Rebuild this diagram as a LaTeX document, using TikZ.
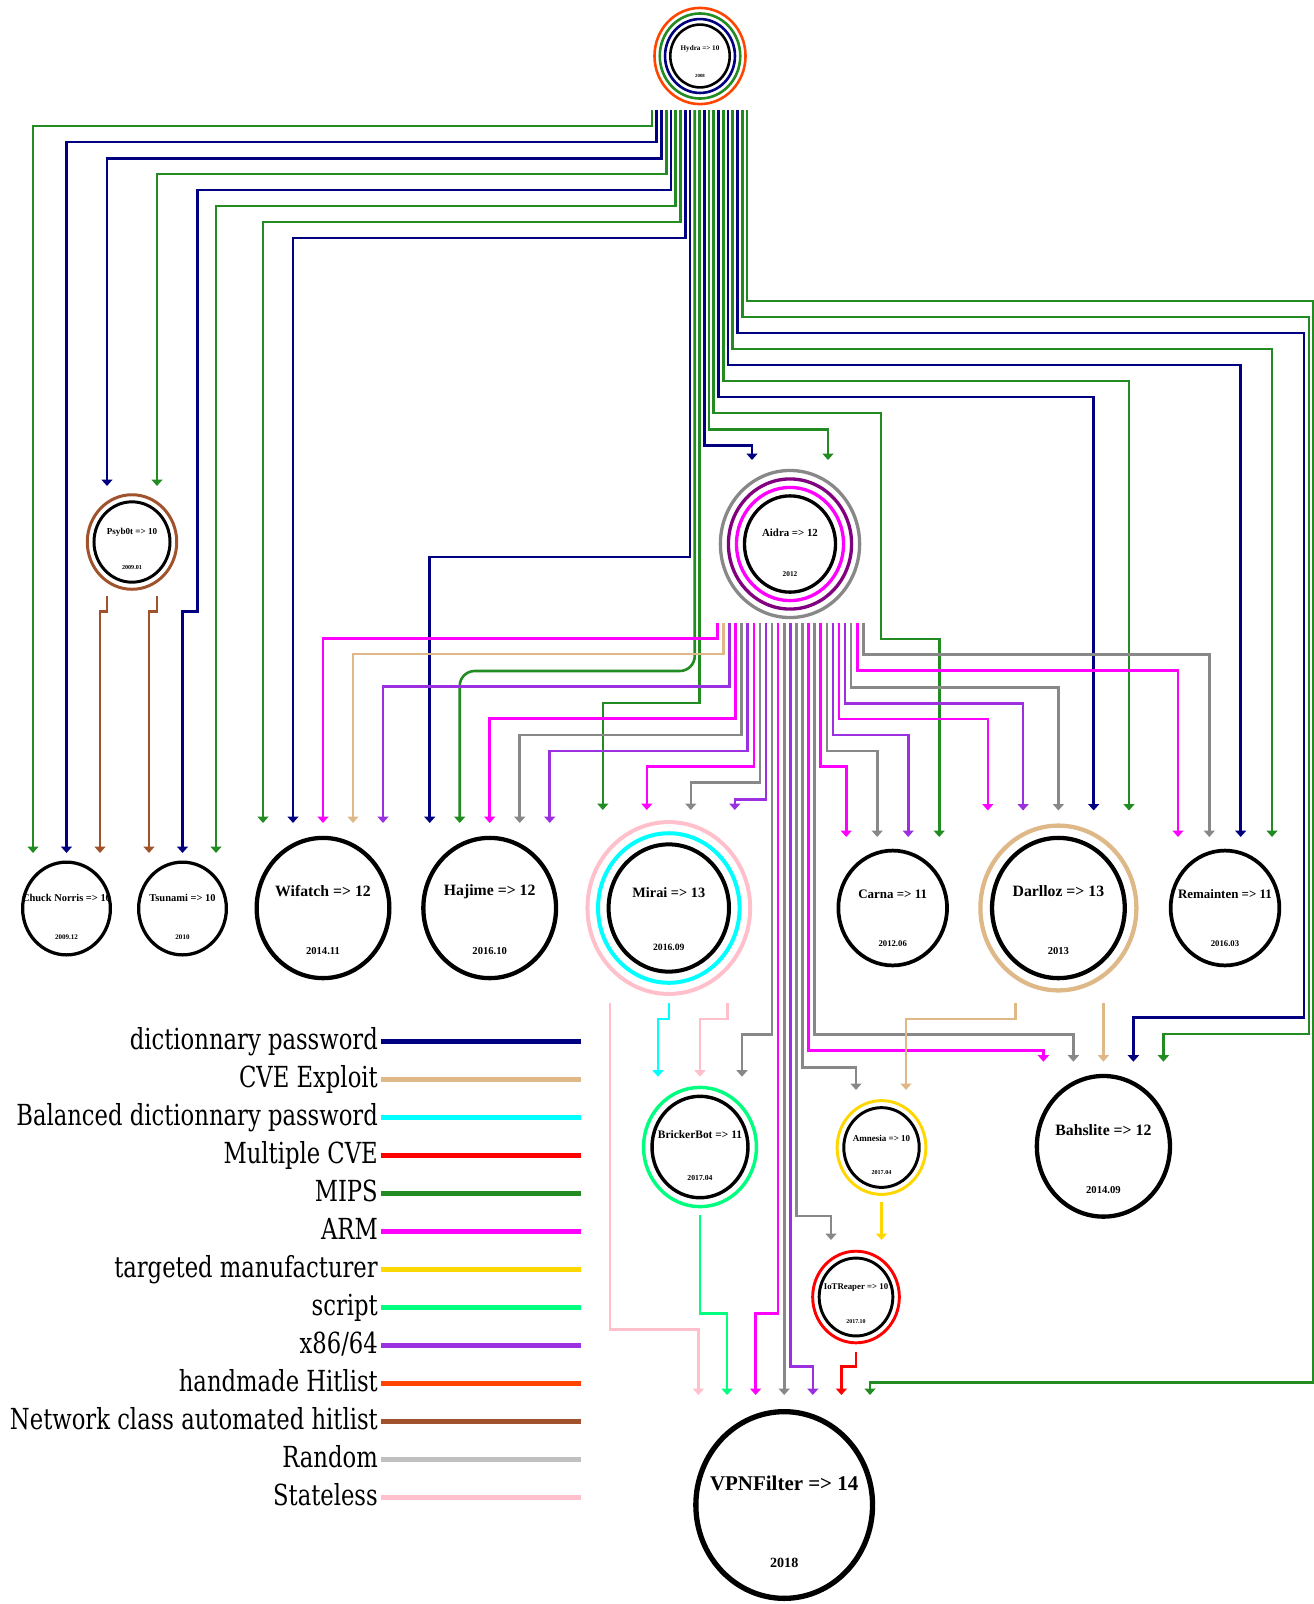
\documentclass[tikz,border=0pt]{standalone}
\usepackage{fontspec}
\setmainfont{Liberation Serif}
\newfontfamily\keyfont[FakeStretch=0.87]{DejaVu Serif Condensed}
\usetikzlibrary{calc, positioning}
\usetikzlibrary{shapes.geometric}
\usetikzlibrary{arrows.meta}

\definecolor{dict}{HTML}{000080}
\definecolor{cve}{HTML}{DEB887}
\definecolor{bdict}{HTML}{00FFFF}
\definecolor{mcve}{HTML}{FF0000}
\definecolor{mips}{HTML}{228B22}
\definecolor{arm}{HTML}{FF00FF}
\definecolor{manuf}{HTML}{FFD700}
\definecolor{script}{HTML}{00FF7F}
\definecolor{x86}{HTML}{9B30E0}
\definecolor{hand}{HTML}{FF4500}
\definecolor{netcls}{HTML}{A0522D}
\definecolor{rnd}{HTML}{888888}
\definecolor{rndkey}{HTML}{C0C0C0}
\definecolor{stateless}{HTML}{FFC0CB}
\definecolor{webpurple}{HTML}{800080}

\tikzset{
  botnode/.style={ellipse, draw=black, inner sep=0pt},
  flow/.style={draw=#1, line width=2.6pt, -{Triangle[width=11pt,length=6.5pt]}},
  keytext/.style={anchor=base east, inner sep=0pt, font=\keyfont\fontsize{29}{29}\selectfont},
  keyline/.style={draw=#1, line width=5pt},
}

% name, x, y, radius, title, year
\newcommand{\botnet}[6]{%
  \pgfmathsetmacro{\bnRy}{1.055*#4}
  \pgfmathsetmacro{\bnLw}{1.2+0.045*#4}
  \pgfmathsetmacro{\bnW}{2*#4-\bnLw}
  \pgfmathsetmacro{\bnH}{2*\bnRy-\bnLw}
  \pgfmathsetmacro{\bnFa}{0.23*#4}
  \pgfmathsetmacro{\bnFb}{0.155*#4}
  \node[botnode, line width=\bnLw pt, minimum width=\bnW pt, minimum height=\bnH pt] (#1) at (#2,#3) {};
  \node[font=\fontsize{\bnFa}{\bnFa}\selectfont\bfseries] (#1-name) at ($(#1)+(0,-0.23*\bnRy)$) {#5};
  \node[font=\fontsize{\bnFb}{\bnFb}\selectfont\bfseries] (#1-year) at ($(#1)+(0,0.6*\bnRy)$) {#6};
}
% node, radius, step, colour
\newcommand{\halo}[4]{%
  \pgfmathsetmacro{\bnLw}{1.2+0.045*#2}
  \pgfmathsetmacro{\bnA}{(1+0.17*#3)*#2-0.5*\bnLw}
  \pgfmathsetmacro{\bnB}{1.055*(1+0.17*#3)*#2-0.5*\bnLw}
  \draw[#4, line width=\bnLw pt] (#1.center) ellipse [x radius=\bnA pt, y radius=\bnB pt];
}
% [opts] colour, from, dx, level, to, dx
\newcommand{\flow}[7][]{%
  \path ($(#3-out)+(#4,0)$) coordinate (fs) ($(#6-in)+(#7,0)$) coordinate (fe) (0,#5) coordinate (fl);
  \draw[flow=#2, #1] (fs) -- (fs |- fl) -| (fe);
}
% colour, from, dx, level, x, level, to, dx
\newcommand{\flowrim}[8]{%
  \path ($(#2-out)+(#3,0)$) coordinate (fs) ($(#7-in)+(#8,0)$) coordinate (fe) (#5,#4) coordinate (fa) (0,#6) coordinate (fb);
  \draw[flow=#1] (fs) |- (fa) |- (fe |- fb) -- (fe);
}

\begin{document}
\begin{tikzpicture}[x=1pt, y=-1pt]
\useasboundingbox (0,0) rectangle (1314,1604);

% botnets
\botnet{hydra}{700}{56}{31}{Hydra => 10}{2008}
\botnet{psyb}{132}{542}{39.5}{Psyb0t => 10}{2009.01}
\botnet{aidra}{790}{544}{47.2}{Aidra => 12}{2012}
\botnet{chuck}{66.5}{908.5}{45.5}{Chuck Norris => 10}{2009.12}
\botnet{tsunami}{182.5}{908.5}{45.5}{Tsunami => 10}{2010}
\botnet{wifatch}{323}{908}{68.5}{Wifatch => 12}{2014.11}
\botnet{hajime}{489.7}{908}{68.5}{Hajime => 12}{2016.10}
\botnet{mirai}{668.8}{908}{62.2}{Mirai => 13}{2016.09}
\botnet{carna}{892.7}{908}{56.2}{Carna => 11}{2012.06}
\botnet{darlloz}{1058.4}{908}{68.5}{Darlloz => 13}{2013}
\botnet{remainten}{1225}{908}{56.2}{Remainten => 11}{2016.03}
\botnet{brickerbot}{700}{1147}{49.7}{BrickerBot => 11}{2017.04}
\botnet{amnesia}{881.5}{1147.5}{39.2}{Amnesia => 10}{2017.04}
\botnet{bahslite}{1103.4}{1146.3}{68.7}{Bahslite => 12}{2014.09}
\botnet{iotreaper}{856}{1297}{38.3}{IoTReaper => 10}{2017.10}
\botnet{vpnfilter}{784.2}{1505}{91}{VPNFilter => 14}{2018}

\halo{hydra}{31}{1}{dict}
\halo{hydra}{31}{2}{mips}
\halo{hydra}{31}{3}{hand}
\halo{psyb}{39.5}{1}{netcls}
\halo{aidra}{47.2}{1}{arm}
\halo{aidra}{47.2}{2}{webpurple}
\halo{aidra}{47.2}{3}{rnd}
\halo{mirai}{62.2}{1}{bdict}
\halo{mirai}{62.2}{2}{stateless}
\halo{darlloz}{68.5}{1}{cve}
\halo{brickerbot}{49.7}{1}{script}
\halo{amnesia}{39.2}{1}{manuf}
\halo{iotreaper}{38.3}{1}{mcve}

% ports
\foreach \n/\d in {hydra/54, aidra/79.3, psyb/54, mirai/95.3, darlloz/95.3,
    brickerbot/68, amnesia/54.2, iotreaper/54.7}
  \coordinate (\n-out) at ($(\n)+(0,\d)$);
\foreach \n/\d in {aidra/-84, psyb/-56, chuck/-55.5, tsunami/-55.5, wifatch/-85,
    hajime/-85, mirai/-98, carna/-71, darlloz/-97.5, remainten/-71, bahslite/-84.6,
    brickerbot/-70.3, amnesia/-57.5, iotreaper/-57, vpnfilter/-110}
  \coordinate (\n-in) at ($(\n)+(0,\d)$);

% from Hydra
\flow{mips}{hydra}{-48}{126}{chuck}{-33.5}
\flow{dict}{hydra}{-43.25}{142}{chuck}{0}
\flow{dict}{hydra}{-38.5}{158.5}{psyb}{-25}
\flow{mips}{hydra}{-33.75}{174}{psyb}{25}
\flowrim{dict}{hydra}{-29}{190}{197.3}{611.7}{tsunami}{0}
\flow{mips}{hydra}{-24.25}{206}{tsunami}{33.5}
\flow{mips}{hydra}{-19.5}{222}{wifatch}{-60}
\flow{dict}{hydra}{-14.75}{238}{wifatch}{-30}
\flow{dict}{hydra}{-10}{557}{hajime}{-60}
\flow[rounded corners=15pt]{mips}{hydra}{-5.25}{671}{hajime}{-30}
\flow{mips}{hydra}{-0.5}{703}{mirai}{-66}
\flow{dict}{hydra}{4.25}{445.7}{aidra}{-38}
\flow{mips}{hydra}{9}{429.3}{aidra}{38}
\flowrim{mips}{hydra}{13.75}{413}{881}{639}{carna}{46.5}
\flow{dict}{hydra}{18.5}{397}{darlloz}{35.3}
\flow{mips}{hydra}{23.25}{381}{darlloz}{70.6}
\flow{dict}{hydra}{28}{365}{remainten}{15.7}
\flow{mips}{hydra}{32.75}{349}{remainten}{47}
\flowrim{dict}{hydra}{37.5}{333}{1304}{1017.5}{bahslite}{30}
\flowrim{mips}{hydra}{42.25}{317}{1309}{1034}{bahslite}{60}
\flowrim{mips}{hydra}{47}{301}{1313}{1382.5}{vpnfilter}{85.8}

% from Aidra
\flow{arm}{aidra}{-72.7}{638.3}{wifatch}{0}
\flow{cve}{aidra}{-66.6}{654}{wifatch}{30}
\flow{x86}{aidra}{-60.5}{686.7}{wifatch}{60}
\flow{arm}{aidra}{-54.5}{718.3}{hajime}{0}
\flow{rnd}{aidra}{-48.4}{735}{hajime}{30}
\flow{x86}{aidra}{-42.3}{751}{hajime}{60}
\flow{arm}{aidra}{-36.2}{766.7}{mirai}{-22}
\flow{rnd}{aidra}{-30.1}{782.7}{mirai}{22}
\flow{x86}{aidra}{-24}{799.3}{mirai}{66}
\flow{rnd}{aidra}{-18}{1034.3}{brickerbot}{42}
\flow{arm}{aidra}{-11.9}{1313.3}{vpnfilter}{-28.6}
\flow{rnd}{aidra}{-5.8}{1380}{vpnfilter}{0}
\flow{x86}{aidra}{0.3}{1366.7}{vpnfilter}{28.6}
\flow{rnd}{aidra}{6.4}{1216}{iotreaper}{-25}
\flow{rnd}{aidra}{12.5}{1067.7}{amnesia}{-25.5}
\flow{arm}{aidra}{18.5}{1050.7}{bahslite}{-60}
\flow{rnd}{aidra}{24.6}{1034.3}{bahslite}{-30}
\flow{arm}{aidra}{30.7}{766.7}{carna}{-46.5}
\flow{rnd}{aidra}{36.8}{751}{carna}{-15.5}
\flow{x86}{aidra}{42.9}{735}{carna}{15.5}
\flow{arm}{aidra}{49}{719}{darlloz}{-70.6}
\flow{x86}{aidra}{55}{703.3}{darlloz}{-35.3}
\flow{rnd}{aidra}{61.1}{687.3}{darlloz}{0}
\flow{arm}{aidra}{67.2}{670.7}{remainten}{-47}
\flow{rnd}{aidra}{73.3}{654.3}{remainten}{-15.7}

% the others
\flow{netcls}{psyb}{-25}{611.7}{chuck}{33.5}
\flow{netcls}{psyb}{25}{611.7}{tsunami}{-33.5}
\flow{stateless}{mirai}{-58.8}{1329.3}{vpnfilter}{-85.8}
\flow{bdict}{mirai}{0}{1019}{brickerbot}{-42}
\flow{stateless}{mirai}{58.9}{1019}{brickerbot}{0}
\flow{cve}{darlloz}{-42.7}{1019}{amnesia}{24.5}
\flow{cve}{darlloz}{45}{1040}{bahslite}{0}
\flow{script}{brickerbot}{0}{1313.3}{vpnfilter}{-57.2}
\flow{manuf}{amnesia}{0}{1220}{iotreaper}{25.5}
\flow{mcve}{iotreaper}{0}{1366.7}{vpnfilter}{57.2}

% legend
\foreach \clr/\txt [count=\k from 0] in {dict/dictionnary password, cve/CVE Exploit,
    bdict/Balanced dictionnary password, mcve/Multiple CVE, mips/MIPS, arm/ARM,
    manuf/targeted manufacturer, script/script, x86/{x86/64}, hand/handmade Hitlist,
    netcls/Network class automated hitlist, rndkey/Random, stateless/Stateless}
{
  \node[keytext] (key\k) at (378,1049+38*\k) {\txt};
  \draw[keyline=\clr] ($(key\k.base east)+(2.5,-8)$) -- ++(200,0);
}
\end{tikzpicture}
\end{document}
